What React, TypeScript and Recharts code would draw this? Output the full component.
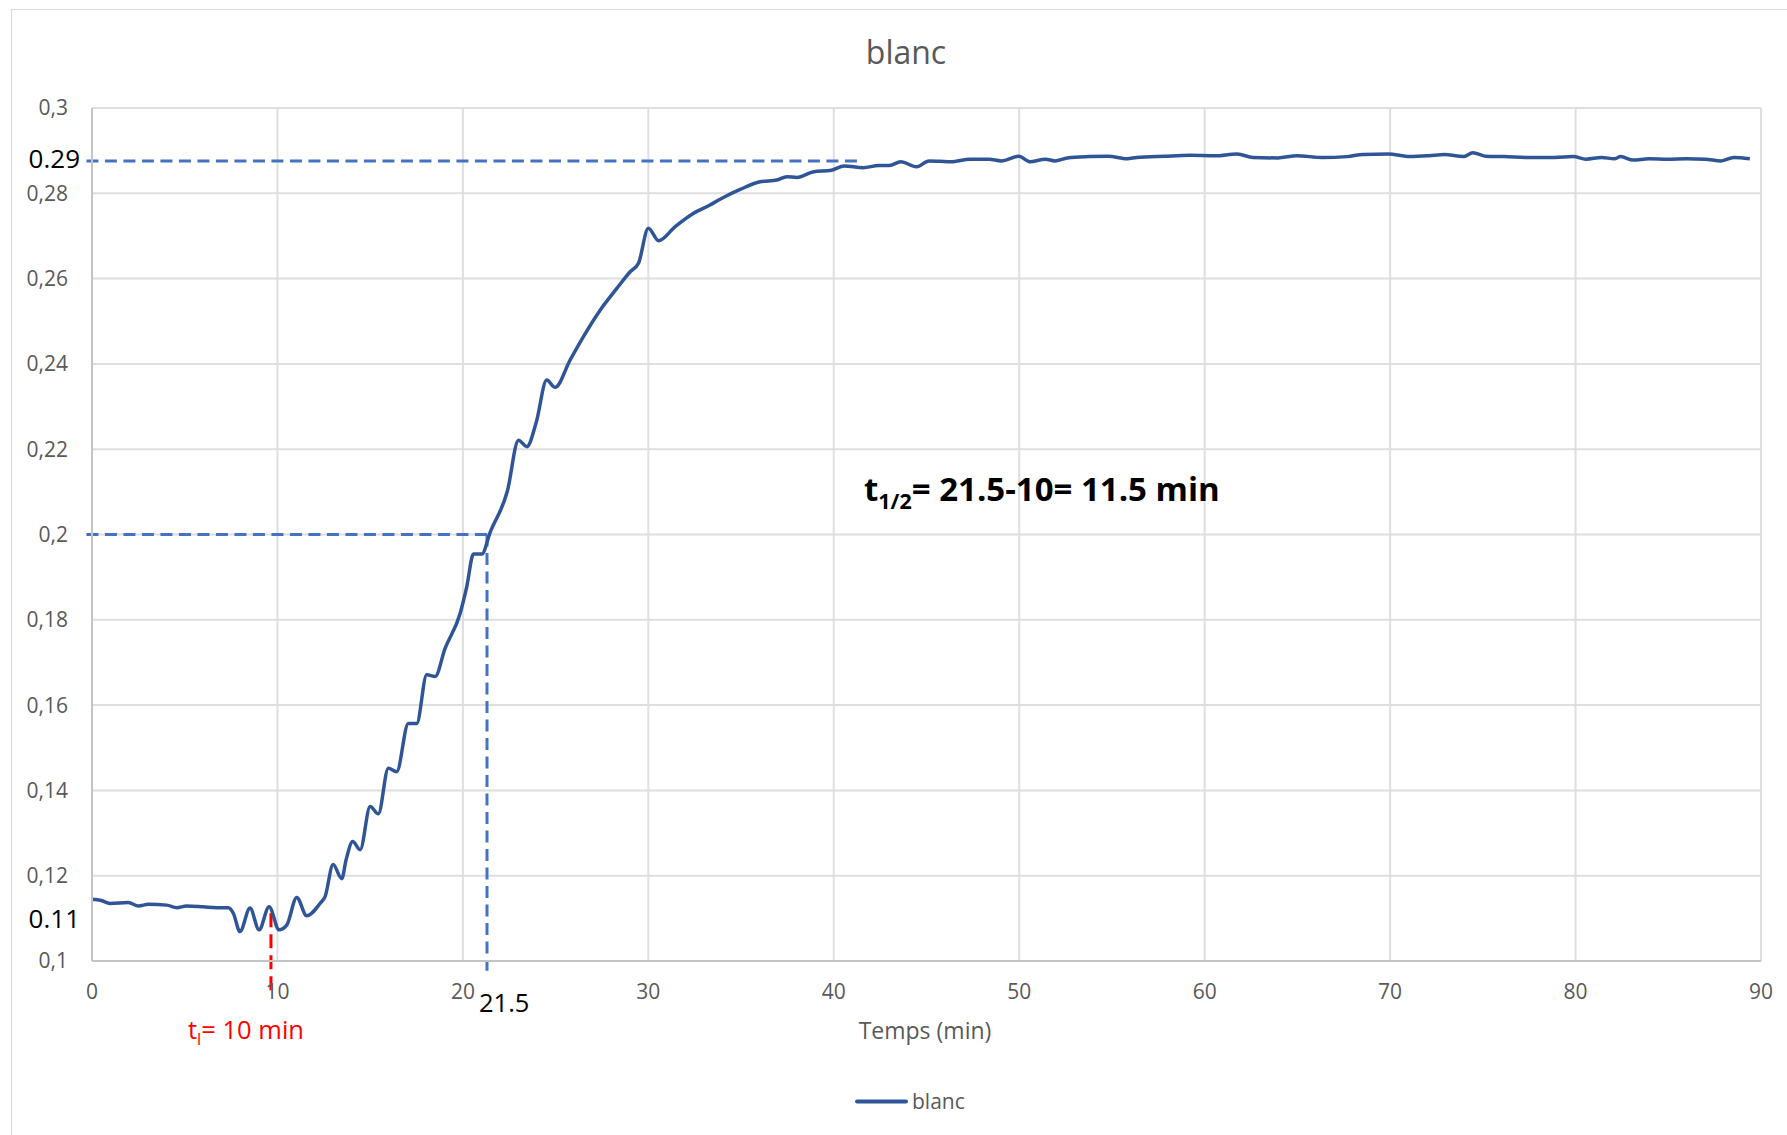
import { CartesianGrid, Line, LineChart, ReferenceLine, XAxis, YAxis } from 'recharts'

// time (min) and absorbance
const minutes = [
  0, 0.5, 0.97, 1.96, 2.5, 3.04, 4.03, 4.57, 5.1, 6.0, 6.72, 7.35, 7.62, 7.98, 8.52, 9.01,
  9.55, 10.09, 10.5, 11.04, 11.58, 12.3, 12.57, 13.0, 13.47, 13.7, 14.06, 14.46, 15.0, 15.44,
  15.98, 16.43, 17.06, 17.51, 18.05, 18.5, 19.04, 19.85, 20.21, 20.57, 21.02, 21.47, 22.4,
  23.0, 23.45, 23.95, 24.52, 24.97, 25.78, 26.5, 27.4, 28.3, 29.02, 29.47, 30.0, 30.55, 31.45,
  32.4, 33.3, 33.87, 34.95, 36.03, 36.93, 37.47, 38.01, 38.87, 39.88, 40.56, 41.58, 42.43,
  43.0, 43.61, 44.46, 45.14, 46.32, 47.34, 48.36, 49.03, 49.98, 50.56, 51.41, 51.92, 52.6,
  53.78, 54.8, 55.82, 56.33, 57.85, 59.2, 60.56, 61.75, 62.6, 63.95, 64.97, 66.33, 67.68,
  68.53, 69.89, 71.07, 72.09, 72.93, 73.95, 74.46, 75.14, 76.16, 77.51, 78.87, 79.88, 80.56,
  81.41, 82.09, 82.43, 83.1, 83.95, 84.97, 85.99, 87.0, 87.85, 88.53, 89.4,
]
const absorbance = [
  0.1145, 0.1142, 0.1135, 0.1137, 0.1129, 0.1133, 0.1131, 0.1125, 0.1129, 0.1127, 0.1125,
  0.1125, 0.1112, 0.1069, 0.1124, 0.1073, 0.1127, 0.1073, 0.1084, 0.1149, 0.1106, 0.1135,
  0.1151, 0.1226, 0.1193, 0.1237, 0.128, 0.1261, 0.1362, 0.1345, 0.1452, 0.1444, 0.1557,
  0.1557, 0.1671, 0.1667, 0.1733, 0.1815, 0.1878, 0.1954, 0.1954, 0.2005, 0.2102, 0.2221,
  0.2206, 0.2262, 0.2362, 0.2345, 0.2409, 0.2464, 0.2526, 0.2577, 0.2616, 0.2636, 0.2718,
  0.2689, 0.2722, 0.2752, 0.2772, 0.2786, 0.2809, 0.2827, 0.2831, 0.2839, 0.2837, 0.285,
  0.2854, 0.2864, 0.286, 0.2865, 0.2865, 0.2874, 0.2862, 0.2876, 0.2874, 0.288, 0.288, 0.2876,
  0.2887, 0.2874, 0.288, 0.2876, 0.2883, 0.2886, 0.2887, 0.2881, 0.2884, 0.2887, 0.2889,
  0.2888, 0.2892, 0.2884, 0.2883, 0.2888, 0.2884, 0.2886, 0.2891, 0.2892, 0.2886, 0.2888,
  0.2891, 0.2886, 0.2895, 0.2887, 0.2886, 0.2884, 0.2884, 0.2886, 0.288, 0.2884, 0.2881,
  0.2886, 0.2878, 0.2881, 0.288, 0.2881, 0.288, 0.2876, 0.2884, 0.2881,
]

const xTicks = [0, 10, 20, 30, 40, 50, 60, 70, 80, 90]
const yTicks = [0.1, 0.12, 0.14, 0.16, 0.18, 0.2, 0.22, 0.24, 0.26, 0.28, 0.3]

// hand-drawn guides
const lagTime = 9.65
const lagTop = 0.1112
const lagBottom = 0.0916
const halfTime = 21.3
const halfAbs = 0.2
const halfBottom = 0.0977
const plateauAbs = 0.2876
const plateauEnd = 41.25
const guideStart = -0.3

const rows = minutes.map((t, i) => ({ t, a: absorbance[i] }))

const FONT = '"Open Sans", sans-serif'
const GREY = '#595959'
const GUIDE_BLUE = '#4472C4'
const SERIES_BLUE = '#2F5597'

const W = 1787
const H = 1135

function Note({ x, y, anchor = 'start', style, children }: any) {
  const tx = anchor === 'end' ? '-100%' : anchor === 'middle' ? '-50%' : '0'
  return (
    <div
      style={{
        position: 'absolute',
        left: x,
        top: y,
        transform: `translate(${tx}, -50%)`,
        lineHeight: 1,
        whiteSpace: 'nowrap',
        ...style,
      }}
    >
      {children}
    </div>
  )
}

export default function App() {
  return (
    <div
      style={{
        position: 'fixed',
        left: 0,
        top: 0,
        width: W,
        height: H,
        overflow: 'hidden',
        background: '#fff',
        fontFamily: FONT,
      }}
    >
      <div
        style={{
          position: 'absolute',
          left: 11,
          top: 9,
          width: 1900,
          height: 1300,
          border: '1px solid #d9d9d9',
        }}
      />
      <div style={{ position: 'absolute', left: 0, top: 0 }}>
        <LineChart width={W} height={H} data={rows} margin={{ top: 108, right: 26, left: 0, bottom: 114 }}>
          <CartesianGrid stroke="#dedede" strokeWidth={2} />
          <XAxis
            type="number"
            dataKey="t"
            domain={[0, 90]}
            ticks={xTicks}
            height={60}
            tickSize={0}
            tickMargin={23}
            tickLine={false}
            axisLine={{ stroke: '#c4c4c4', strokeWidth: 2 }}
            tick={{ fill: GREY, fontSize: 21, fontFamily: FONT }}
          />
          <YAxis
            type="number"
            domain={[0.1, 0.3]}
            ticks={yTicks}
            width={92}
            tickSize={0}
            tickMargin={24}
            tickLine={false}
            axisLine={{ stroke: '#c4c4c4', strokeWidth: 2 }}
            tick={{ fill: GREY, fontSize: 21, fontFamily: FONT }}
            tickFormatter={(v: number) => String(Math.round(v * 100) / 100).replace('.', ',')}
          />
          <ReferenceLine
            segment={[{ x: guideStart, y: plateauAbs }, { x: plateauEnd, y: plateauAbs }]}
            stroke={GUIDE_BLUE}
            strokeWidth={3}
            strokeDasharray="12 6.5"
            ifOverflow="visible"
          />
          <ReferenceLine
            segment={[{ x: guideStart, y: halfAbs }, { x: halfTime, y: halfAbs }]}
            stroke={GUIDE_BLUE}
            strokeWidth={3}
            strokeDasharray="12 6.5"
            ifOverflow="visible"
          />
          <ReferenceLine
            segment={[{ x: halfTime, y: halfAbs }, { x: halfTime, y: halfBottom }]}
            stroke={GUIDE_BLUE}
            strokeWidth={3}
            strokeDasharray="12 6.5"
            ifOverflow="visible"
          />
          <ReferenceLine
            segment={[{ x: lagTime, y: lagTop }, { x: lagTime, y: lagBottom }]}
            stroke="#FF0000"
            strokeWidth={3}
            strokeDasharray="14 7"
            ifOverflow="visible"
          />
          <Line
            type="monotone"
            dataKey="a"
            name="blanc"
            stroke={SERIES_BLUE}
            strokeWidth={3.5}
            dot={false}
            activeDot={false}
            isAnimationActive={false}
          />
        </LineChart>
      </div>

      <Note x={906} y={52} anchor="middle" style={{ fontSize: 32, color: GREY }}>
        blanc
      </Note>
      <Note x={80} y={158} anchor="end" style={{ fontSize: 26, color: '#000' }}>
        0.29
      </Note>
      <Note x={80} y={918} anchor="end" style={{ fontSize: 26, color: '#000' }}>
        0.11
      </Note>
      <Note x={479} y={1003} style={{ fontSize: 25.5, color: '#000' }}>
        21.5
      </Note>
      <Note x={188} y={1032} style={{ fontSize: 25.5, color: '#FF0000' }}>
        t<sub style={{ fontSize: '65%' }}>l</sub>= 10 min
      </Note>
      <Note x={864} y={492} style={{ fontSize: 33, fontWeight: 700, color: '#000' }}>
        t<sub style={{ fontSize: '65%' }}>1/2</sub>= 21.5-10= 11.5 min
      </Note>
      <Note x={925} y={1030} anchor="middle" style={{ fontSize: 23, color: GREY }}>
        Temps (min)
      </Note>

      <div
        style={{
          position: 'absolute',
          left: 855,
          top: 1101,
          transform: 'translateY(-50%)',
          display: 'flex',
          alignItems: 'center',
          gap: 4,
        }}
      >
        <svg width={53} height={8}>
          <line x1={2} y1={4} x2={51} y2={4} stroke={SERIES_BLUE} strokeWidth={4} strokeLinecap="round" />
        </svg>
        <span style={{ fontSize: 21, color: GREY, lineHeight: 1 }}>blanc</span>
      </div>
    </div>
  )
}
